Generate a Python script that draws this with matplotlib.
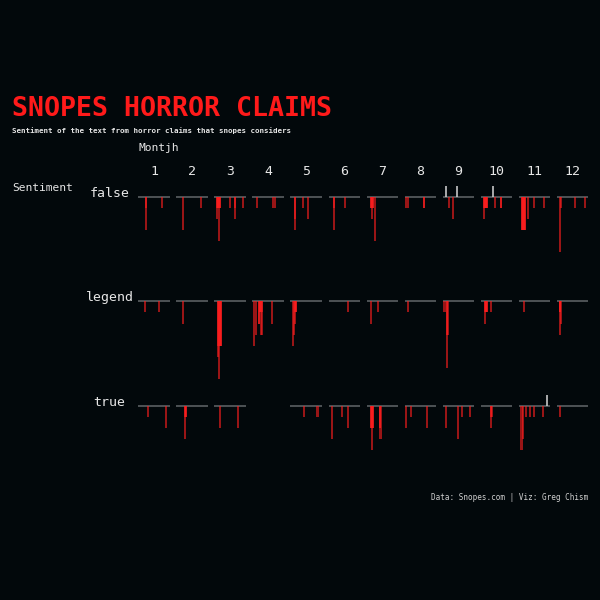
import numpy as np
import matplotlib
matplotlib.use("Agg")
import matplotlib.pyplot as plt

BG = "#02080b"
RED = "#ff1f1f"
TXT = "#e6e6e6"

MONTHS = list(range(1, 13))
ROWS = ["false", "legend", "true"]

# (month, day, sentiment) for each claim, one set of lists per rating
false_month = [1, 1, 1, 2, 2,
               3, 3, 3, 3, 3, 3, 3, 3, 3, 3, 3, 3,
               4, 4, 4, 5, 5, 5, 5, 6, 6, 6,
               7, 7, 7, 7, 7, 7, 7, 8, 8, 8, 8,
               9, 9, 9, 9,
               10, 10, 10, 10, 10, 10, 10, 10, 10, 10, 10, 10,
               11, 11, 11, 11, 11, 11, 11, 11, 11, 11, 11,
               12, 12, 12, 12]
false_day = [7, 7, 24, 6, 25,
             2, 2, 3, 3, 4, 4, 5, 5, 16, 21, 21, 30,
             4, 21, 23, 4, 4, 12, 18, 5, 5, 17,
             4, 4, 5, 5, 6, 6, 8, 1, 3, 20, 20,
             3, 14, 6, 10,
             12, 3, 3, 4, 4, 5, 5, 6, 6, 14, 21, 21,
             3, 3, 4, 4, 5, 5, 6, 6, 9, 15, 26,
             2, 4, 19, 29]
false_score = [-1, -3, -1, -3, -1,
               -2, -1, -1, -1, -4, -1, -1, -1, -1, -1, -2, -1,
               -1, -1, -1, -2, -3, -1, -2, -1, -3, -1,
               -1, -1, -2, -1, -1, -1, -4, -1, -1, -1, -1,
               1, 1, -1, -2,
               1, -2, -1, -1, -1, -1, -1, -1, -1, -1, -1, -1,
               -3, -3, -3, -3, -3, -3, -3, -3, -2, -1, -1,
               -5, -1, -1, -1]

legend_month = [1, 1, 2,
                3, 3, 3, 3, 3, 3, 3, 3,
                4, 4, 4, 4, 4, 4, 4, 4, 4, 4, 4,
                5, 5, 5, 5, 5, 5, 6, 7, 7, 8,
                9, 9, 9, 9,
                10, 10, 10, 10, 10, 10, 10, 11,
                12, 12, 12, 12, 12]
legend_day = [6, 21, 6,
              3, 3, 4, 4, 5, 5, 6, 6,
              1, 3, 6, 6, 7, 7, 8, 8, 9, 9, 20,
              2, 3, 4, 4, 5, 5, 20, 4, 11, 3,
              1, 4, 4, 5,
              4, 4, 5, 5, 6, 6, 10, 5,
              2, 2, 3, 3, 4]
legend_score = [-1, -1, -2,
                -5, -4, -7, -4, -4, -4, -4, -4,
                -4, -3, -2, -2, -1, -1, -3, -1, -3, -1, -2,
                -4, -3, -2, -1, -1, -1, -1, -2, -1, -1,
                -1, -6, -3, -3,
                -2, -1, -1, -1, -1, -1, -1, -1,
                -3, -1, -1, -1, -2]

true_month = [1, 1, 2, 2, 2, 2, 3, 3,
              5, 5, 6, 6, 6,
              7, 7, 7, 7, 7, 7, 7, 7, 7,
              8, 8, 8, 9, 9, 9, 9,
              10, 10, 10,
              11, 11, 11, 11, 11, 11, 11, 12]
true_day = [9, 29, 8, 8, 9, 9, 5, 24,
            14, 28, 3, 13, 20,
            4, 4, 5, 5, 6, 6, 13, 13, 14,
            1, 6, 23, 3, 16, 20, 28,
            10, 10, 11,
            2, 4, 7, 11, 15, 25, 29, 2]
true_score = [-1, -2, -3, -1, -1, -1, -2, -2,
              -1, -1, -3, -1, -2,
              -2, -2, -4, -2, -2, -2, -2, -2, -3,
              -2, -1, -2, -2, -3, -1, -1,
              -2, -1, -1,
              -4, -3, -1, -1, -1, -1, 1, -1]

DATA = {
    "false": (false_month, false_day, false_score),
    "legend": (legend_month, legend_day, legend_score),
    "true": (true_month, true_day, true_score),
}

W = H = 600
fig = plt.figure(figsize=(6, 6), dpi=100, facecolor=BG)
plt.rcParams["font.family"] = ["DejaVu Sans Mono"]


def fx(px):
    return px / W


def fy(py):
    return 1 - py / H


# panel geometry in pixels
col_left0, col_step, col_w = 138.3, 38.04, 31.7
row_base0, row_step, unit = 196.7, 104.5, 11.15
ylo, yhi = -7.4, 1.4

for r, name in enumerate(ROWS):
    months, days, scores = (np.array(a) for a in DATA[name])
    base = row_base0 + r * row_step
    top = base - yhi * unit
    h = (yhi - ylo) * unit
    for c, m in enumerate(MONTHS):
        left = col_left0 + c * col_step
        ax = fig.add_axes([fx(left), fy(top + h), col_w / W, h / H])
        ax.set_facecolor(BG)
        ax.set_xlim(-1, 33)
        ax.set_ylim(ylo, yhi)
        ax.axis("off")
        sel = months == m
        if not sel.any():
            continue
        ax.axhline(0, color="#626669", lw=1.1, zorder=1)
        d, s = days[sel], scores[sel]
        neg = s < 0
        ax.bar(d[neg], s[neg], width=2.2, color=RED, alpha=0.6,
               linewidth=0, antialiased=False, zorder=2)
        # positive sentiment in pale grey
        ax.bar(d[~neg], s[~neg], width=2.2, color="#cfcfcf", alpha=0.8,
               linewidth=0, antialiased=False, zorder=2)
    fig.text(fx(109.5), fy(base), name, ha="center", va="baseline",
             fontsize=9.5, color=TXT)

for c, m in enumerate(MONTHS):
    cx = col_left0 + c * col_step + col_w / 2
    fig.text(fx(cx), fy(175), str(m), ha="center", va="baseline",
             fontsize=9.5, color=TXT)

fig.text(fx(12), fy(116.5), "SNOPES HORROR CLAIMS", ha="left", va="baseline",
         fontsize=19.2, fontweight="bold", color="#ff1a1a")
fig.text(fx(12), fy(133.5),
         "Sentiment of the text from horror claims that snopes considers",
         ha="left", va="baseline", fontsize=5.4, fontweight="bold", color=TXT)
fig.text(fx(138.3), fy(151.5), "Montjh", ha="left", va="baseline",
         fontsize=8.1, color=TXT)
fig.text(fx(12), fy(191), "Sentiment", ha="left", va="baseline",
         fontsize=8.1, color=TXT)
fig.text(fx(588.3), fy(499.5), "Data: Snopes.com | Viz: Greg Chism",
         ha="right", va="baseline", fontsize=5.5, color="#cfcfcf")

fig.savefig("out.png", dpi=100, facecolor=BG)
